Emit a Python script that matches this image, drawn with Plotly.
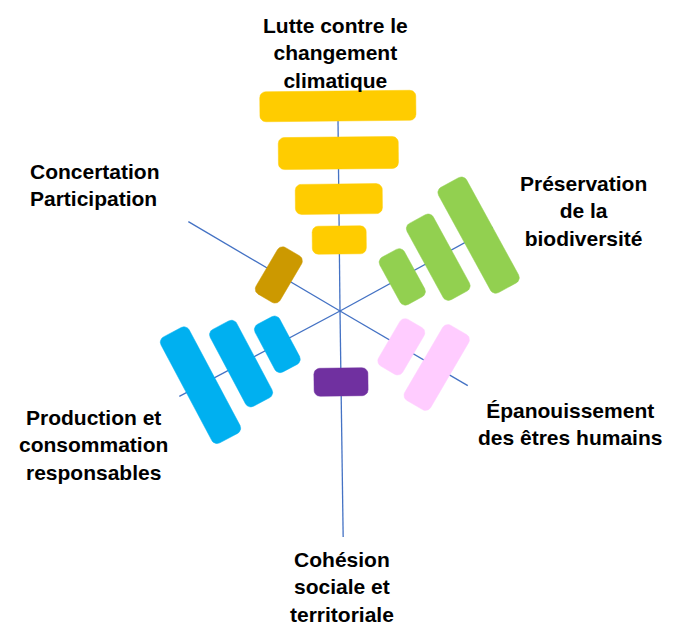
import numpy as np
import plotly.graph_objects as go


# ---------------- Data ----------------
categories = [
    "Lutte contre le<br>changement<br>climatique",
    "Préservation<br>de la<br>biodiversité",
    "Épanouissement<br>des êtres humains",
    "Cohésion<br>sociale et<br>territoriale",
    "Production et<br>consommation<br>responsables",
    "Concertation<br>Participation",
]
levels = [4, 3, 2, 1, 3, 1]

# ---------------- Styles / geometry ----------------
colors = ["#FFCC00", "#92D050", "#FFCCFF", "#7030A0", "#00B0F0", "#CC9900"]
ray_angles = [90.6, 28.7, -30.3, -89.2, 208.0, 149.5]
ray_lengths = [200, 174, 148, 226, 182, 176]
level_dist = [71, 112, 158, 205]
level_len = [54, 87, 120, 156]
level_thick = [28, 30, 32, 30]
label_pos = [(-5, 258, "center"), (243, 100, "center"), (230, -113, "center"),
             (2, -276, "center"), (-247, -134, "center"), (-312, 126, "left")]


def rounded_rect(cx, cy, ang_deg, length, thick, r=6, n=8):
    """Polygon of a rounded rectangle whose long side is perpendicular to the ray."""
    a = np.radians(ang_deg)
    ux, uy = -np.sin(a), np.cos(a)   # along the long side
    vx, vy = np.cos(a), np.sin(a)    # along the ray
    hx, hy = length / 2 - r, thick / 2 - r
    xs, ys = [], []
    for sx, sy, a0 in [(1, 1, 0), (-1, 1, 90), (-1, -1, 180), (1, -1, 270)]:
        for t in np.radians(np.linspace(a0, a0 + 90, n)):
            lx = sx * hx + r * np.cos(t)
            ly = sy * hy + r * np.sin(t)
            xs.append(cx + lx * ux + ly * vx)
            ys.append(cy + lx * uy + ly * vy)
    xs.append(xs[0])
    ys.append(ys[0])
    return xs, ys


fig = go.Figure()

# axis rays
for ang, ln in zip(ray_angles, ray_lengths):
    a = np.radians(ang)
    fig.add_trace(go.Scatter(
        x=[0, ln * np.cos(a)], y=[0, ln * np.sin(a)],
        mode="lines", line=dict(color="#4472C4", width=1.3),
        hoverinfo="skip"
    ))

# bars
for cat, lev, col, ang in zip(categories, levels, colors, ray_angles):
    a = np.radians(ang)
    for k in range(lev):
        d = level_dist[k]
        xs, ys = rounded_rect(d * np.cos(a), d * np.sin(a), ang,
                              level_len[k], level_thick[k])
        fig.add_trace(go.Scatter(
            x=xs, y=ys, mode="lines", fill="toself",
            fillcolor=col, line=dict(color=col, width=0.5),
            hoverinfo="skip"
        ))

# labels
for cat, (lx, ly, al) in zip(categories, label_pos):
    fig.add_annotation(
        x=lx, y=ly, text="<b>" + cat + "</b>", showarrow=False,
        xanchor=al if al == "left" else "center", yanchor="middle",
        align=al,
        font=dict(family="Liberation Sans, Arial", size=21, color="black")
    )

# page body adds an 8px margin, so the figure covers the window from (8, 8)
fig.update_layout(
    width=665, height=620, autosize=False,
    margin=dict(l=0, r=0, t=0, b=0, pad=0),
    showlegend=False,
    plot_bgcolor="white", paper_bgcolor="white",
    xaxis=dict(range=[-332, 333], visible=False, fixedrange=True),
    yaxis=dict(range=[-317, 303], visible=False, fixedrange=True),
    hovermode=False
)

fig.write_html("out.html")
